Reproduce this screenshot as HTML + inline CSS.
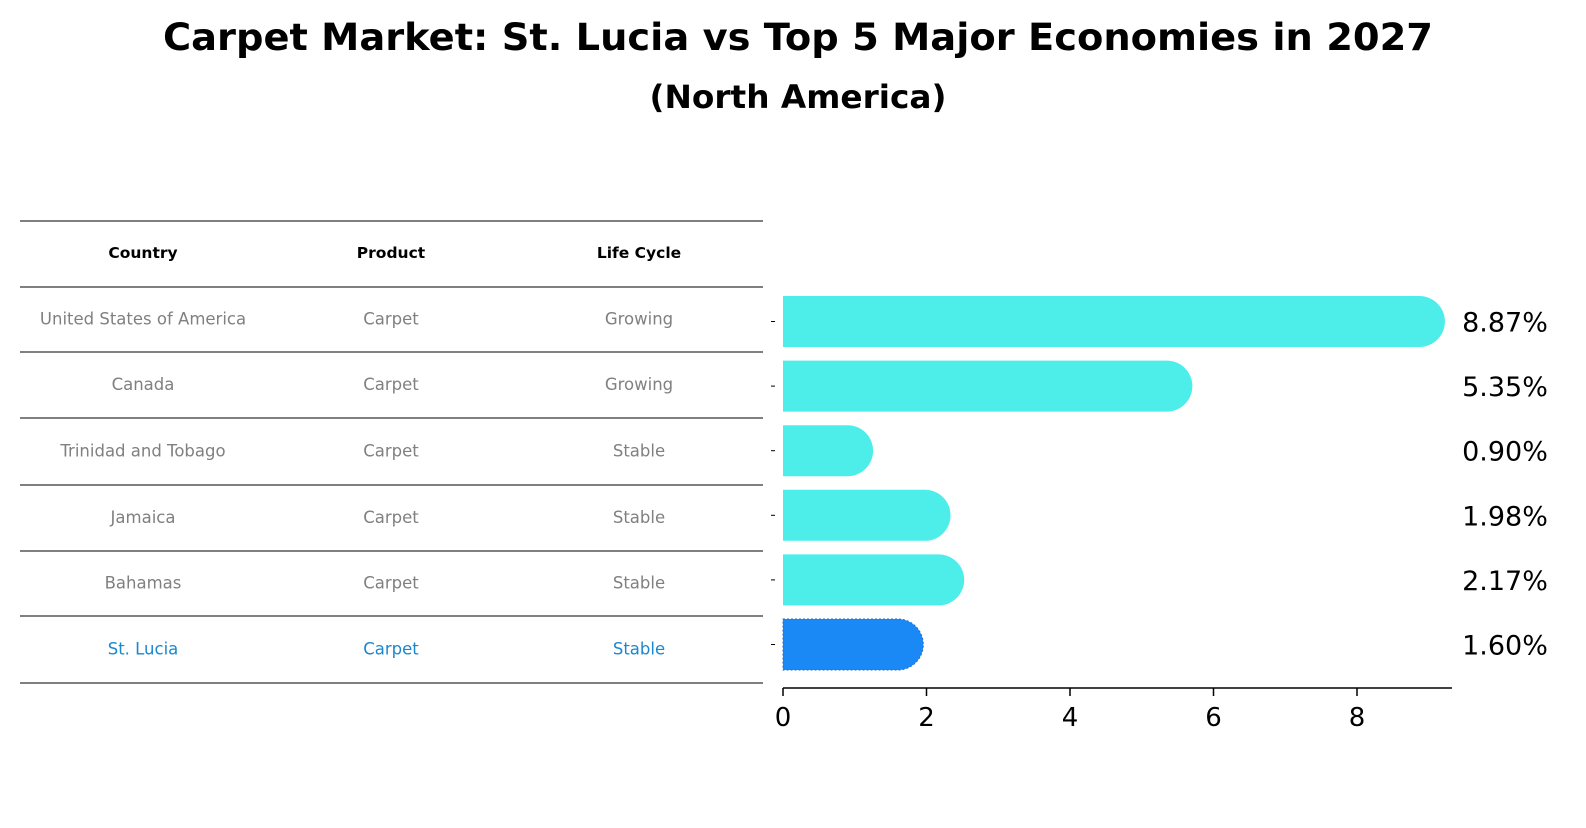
<!DOCTYPE html>
<html><head><meta charset="utf-8"><style>
body{margin:0;background:#fff;width:1586px;height:823px;overflow:hidden;font-family:"Liberation Sans","DejaVu Sans",sans-serif}
</style></head><body>
<svg width="1586" height="823" xmlns="http://www.w3.org/2000/svg" font-family="DejaVu Sans, Liberation Sans, sans-serif">
<text x="798" y="50" text-anchor="middle" font-size="37" font-weight="bold" textLength="1270" lengthAdjust="spacingAndGlyphs">Carpet Market: St. Lucia vs Top 5 Major Economies in 2027</text>
<text x="798" y="108" text-anchor="middle" font-size="32" font-weight="bold" textLength="297" lengthAdjust="spacingAndGlyphs">(North America)</text>
<g id="table"></g>
<g id="bars"></g>
</svg>
<script>
const countries=["United States of America","Canada","Trinidad and Tobago","Jamaica","Bahamas","St. Lucia"];
const products=["Carpet","Carpet","Carpet","Carpet","Carpet","Carpet"];
const lifecycle=["Growing","Growing","Stable","Stable","Stable","Stable"];
const values=[8.87,5.35,0.90,1.98,2.17,1.60];
const xTicks=[0,2,4,6,8];
const NS="http://www.w3.org/2000/svg";
function mk(tag,attrs,parent,text){const e=document.createElementNS(NS,tag);for(const k in attrs)e.setAttribute(k,attrs[k]);if(text!==undefined)e.textContent=text;parent.appendChild(e);return e;}
const tb=document.getElementById('table');
const lineYs=[221,287,352,418,485,551,616,683];
lineYs.forEach((y,i)=>{const l=mk('line',{x1:20,x2:763,y1:y,y2:y,stroke:'#000','stroke-width':1},tb);

});
const colX=[143,391,639];
["Country","Product","Life Cycle"].forEach((h,i)=>{const t=mk('text',{x:colX[i],y:258,'text-anchor':'middle','font-size':15.5,'font-weight':'bold'},tb,h);

});
countries.forEach((c,i)=>{const y=(lineYs[i+1]+lineYs[i+2])/2+5;const col=i===countries.length-1?'#1a88d0':'#808080';
[c,products[i],lifecycle[i]].forEach((v,j)=>{const t=mk('text',{x:colX[j],y:y,'text-anchor':'middle','font-size':16.5,fill:col},tb,v);

});});
const bg=document.getElementById('bars');
const x0=783,pxPer=71.75;const X=v=>x0+v*pxPer;
const rowC=i=>321.5+i*64.6;const bh=51,r=25.5;
values.forEach((v,i)=>{const last=i===values.length-1;const fill=last?'#1a88f5':'#4dedea';const yc=rowC(i);const xe=X(v);
const p=mk('path',{d:`M${x0},${yc-bh/2} L${xe},${yc-bh/2} A${r},${r} 0 0 1 ${xe},${yc+bh/2} L${x0},${yc+bh/2} Z`,fill:fill},bg);
if(last){p.setAttribute('stroke','#1f6fd0');p.setAttribute('stroke-dasharray','2,2');p.setAttribute('stroke-width','1');}


const t=mk('text',{x:1505,y:yc+10,'text-anchor':'middle','font-size':27},bg,v.toFixed(2)+'%');


const tk=mk('line',{x1:771,x2:775,y1:yc,y2:yc,stroke:'#000'},bg);

});
const ax=mk('line',{x1:x0,x2:1452,y1:688,y2:688,stroke:'#000','stroke-width':1.5},bg);


xTicks.forEach(v=>{const l=mk('line',{x1:X(v),x2:X(v),y1:688,y2:696,stroke:'#000','stroke-width':1.5},bg);


const t=mk('text',{x:X(v),y:726,'text-anchor':'middle','font-size':26},bg,String(v));

});
</script>
</body></html>
